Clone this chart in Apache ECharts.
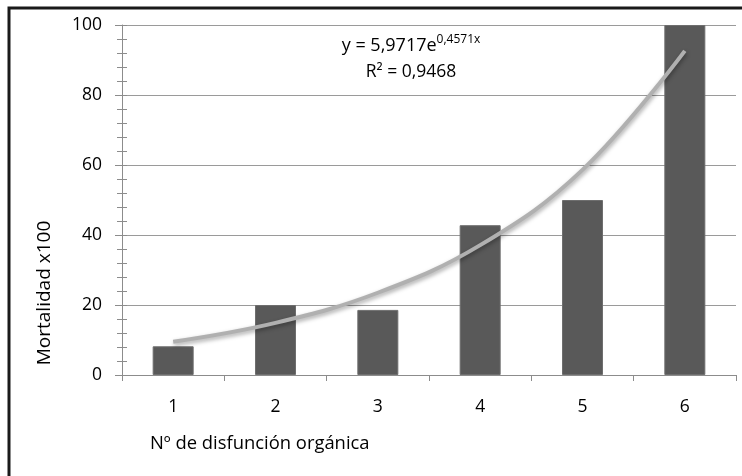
<!DOCTYPE html>
<html>
<head>
<meta charset="utf-8">
<script src="https://cdn.jsdelivr.net/npm/echarts@6/dist/echarts.min.js"></script>
<style>
  html, body { margin: 0; padding: 0; background: #fff; }
  #chart { width: 742px; height: 476px; }
</style>
</head>
<body>
<div id="chart"></div>
<script>
const categories = ['1', '2', '3', '4', '5', '6'];
const mortalidad = [8.2, 20, 18.6, 42.8, 50, 100];
// exponential trend line at each category centre
const tendencia = [9.5, 14.9, 23.5, 37.1, 58.6, 92.6];
const yTicks = [0, 20, 40, 60, 80, 100];

const FONT = '"Open Sans", "Liberation Sans", sans-serif';

const chart = echarts.init(document.getElementById('chart'));

const option = {
    animation: false,
    backgroundColor: '#fff',
    textStyle: {fontFamily: FONT},
    grid: {left: 122, right: 6, top: 25, bottom: 101},
    xAxis: {
        type: 'category',
        data: categories,
        axisLine: {lineStyle: {color: '#8c8c8c', width: 1}},
        axisTick: {show: true, length: 6, lineStyle: {color: '#8c8c8c'}},
        axisLabel: {color: '#000', fontSize: 17.5, margin: 23, fontFamily: FONT}
    },
    yAxis: [{
        type: 'value',
        min: yTicks[0],
        max: yTicks[yTicks.length - 1],
        interval: 20,
        axisLine: {show: true, lineStyle: {color: '#8c8c8c'}},
        axisTick: {show: true, length: 7, lineStyle: {color: '#8c8c8c'}},
        minorTick: {show: true, splitNumber: 5, length: 5, lineStyle: {color: '#8c8c8c'}},
        axisLabel: {color: '#000', fontSize: 17.5, margin: 20, fontFamily: FONT},
        splitLine: {show: true, lineStyle: {color: '#9a9a9a', width: 1}}
    }, {
        // inner half of the ticks, so they cross the axis line
        type: 'value',
        position: 'left',
        min: yTicks[0],
        max: yTicks[yTicks.length - 1],
        interval: 20,
        axisLine: {show: false},
        axisTick: {show: true, inside: true, length: 5, lineStyle: {color: '#8c8c8c'}},
        minorTick: {show: true, splitNumber: 5, length: 5, lineStyle: {color: '#8c8c8c'}},
        axisLabel: {show: false},
        splitLine: {show: false}
    }],
    series: [{
        type: 'bar',
        data: mortalidad,
        barWidth: 41,
        itemStyle: {color: '#595959', borderColor: '#6e6e6e', borderWidth: 1},
        z: 2
    }, {
        type: 'line',
        data: tendencia,
        smooth: 0.4,
        showSymbol: false,
        lineStyle: {
            color: '#b0b0b0', width: 4,
            shadowColor: 'rgba(0,0,0,0.35)', shadowBlur: 4, shadowOffsetX: 1, shadowOffsetY: 2
        },
        z: 3
    }],
    graphic: [{
        type: 'rect',
        shape: {x: 9, y: 8, width: 760, height: 500},
        style: {fill: 'none', stroke: '#1a1a1a', lineWidth: 3},
        silent: true
    }, {
        type: 'text',
        x: 45, y: 293,
        rotation: Math.PI / 2,
        style: {
            text: 'Mortalidad x100',
            font: '19px ' + FONT,
            fill: '#000',
            align: 'center',
            verticalAlign: 'middle'
        }
    }, {
        type: 'text',
        x: 150, y: 444,
        style: {
            text: 'Nº de disfunción orgánica',
            font: '18.4px ' + FONT,
            fill: '#000',
            align: 'left',
            verticalAlign: 'middle'
        }
    }, {
        type: 'text',
        x: 411, y: 46,
        style: {
            text: '{b|y = 5,9717e}{s|0,4571x}',
            fill: '#000',
            rich: {
                b: {fontSize: 18, fontFamily: FONT, fill: '#000'},
                s: {fontSize: 12, fontFamily: FONT, fill: '#000', padding: [0, 0, 12, 0]}
            },
            align: 'center',
            verticalAlign: 'middle'
        }
    }, {
        type: 'text',
        x: 411, y: 72,
        style: {
            text: 'R² = 0,9468',
            font: '17.5px ' + FONT,
            fill: '#000',
            align: 'center',
            verticalAlign: 'middle'
        }
    }]
};

chart.setOption(option);
</script>
</body>
</html>
